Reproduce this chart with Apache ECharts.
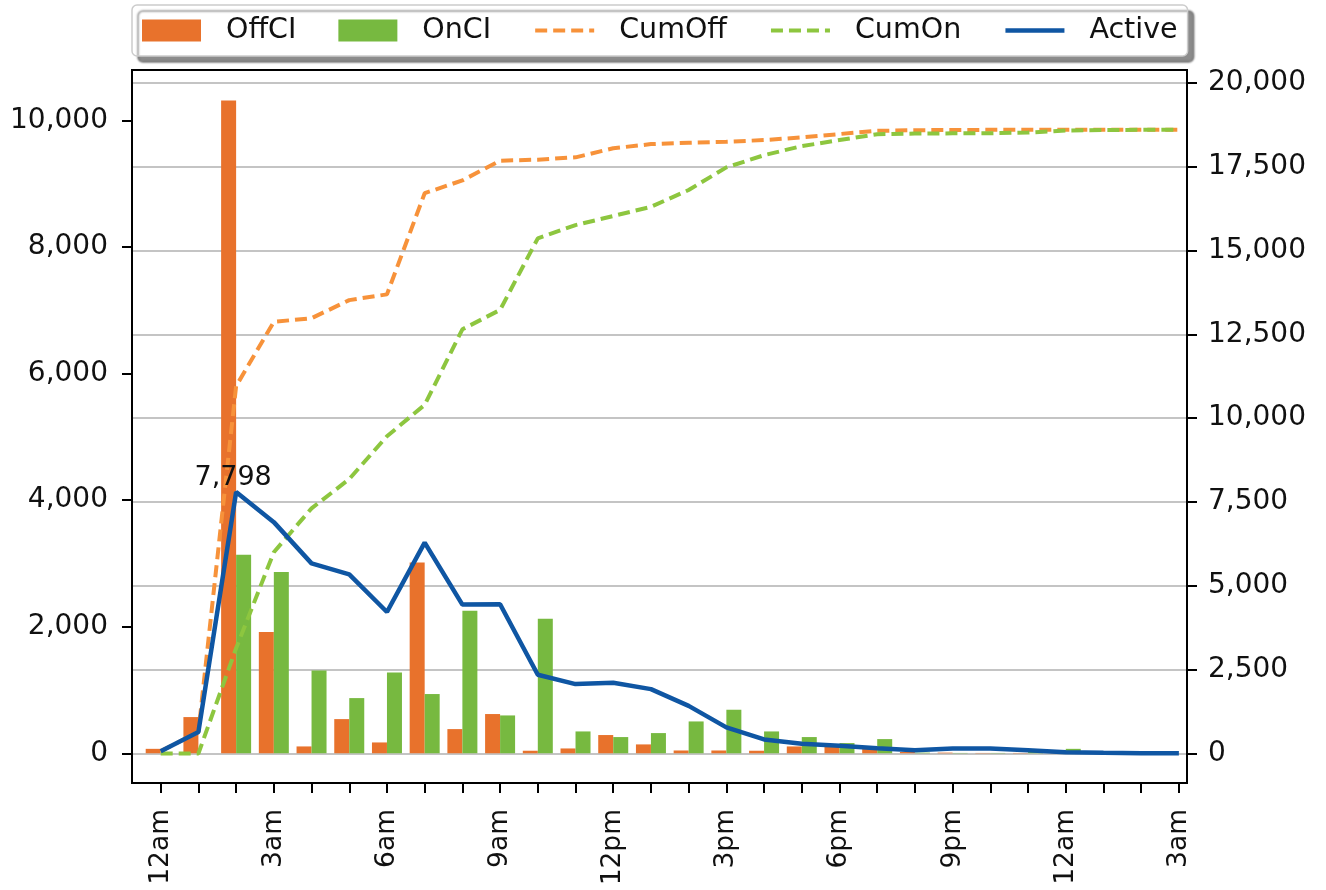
<!DOCTYPE html>
<html>
<head>
<meta charset="utf-8">
<script src="https://cdn.jsdelivr.net/npm/echarts@6/dist/echarts.min.js"></script>
<style>
html,body{margin:0;padding:0;background:#fff;}
#chart{width:1326px;height:890px;}
</style>
</head>
<body>
<div id="chart"></div>
<script>
const categories = ['12am','1am','2am','3am','4am','5am','6am','7am','8am','9am','10am','11am','12pm','1pm','2pm','3pm','4pm','5pm','6pm','7pm','8pm','9pm','10pm','11pm','12am','1am','2am','3am'];
const labelPositions = [0,3,6,9,12,15,18,21,24,27];
const leftTicks = [0,2000,4000,6000,8000,10000];
const rightTicks = [0,2500,5000,7500,10000,12500,15000,17500,20000];

const offCI = [70,572,10316,1916,108,540,171,3017,382,620,40,76,288,140,44,44,40,108,130,95,20,10,5,5,5,0,0,0];
const onCI  = [0,0,3138,2865,1309,872,1278,936,2253,598,2126,345,256,319,503,688,345,256,161,224,10,5,5,20,70,10,5,0];
const cumOff = [70,642,10958,12874,12982,13522,13693,16710,17092,17680,17710,17780,18050,18175,18215,18245,18295,18375,18475,18570,18590,18595,18600,18600,18605,18605,18605,18605];
const cumOn  = [0,0,3138,6003,7312,8184,9462,10398,12651,13230,15365,15760,16030,16305,16805,17480,17845,18115,18295,18470,18490,18495,18500,18520,18580,18595,18600,18605];
const active = [70,642,7798,6900,5670,5340,4220,6290,4440,4450,2350,2070,2110,1920,1420,780,420,290,230,160,100,150,150,100,40,20,10,5];

const FONT = 'DejaVu Sans';
const fmt = v => Math.round(v).toLocaleString('en-US');
const pairs = arr => arr.map((v,i)=>[i,v]);
const peak = active.indexOf(Math.max(...active));
const activeData = active.map((v,i)=> i===peak ? {
  value:[i,v], symbol:'circle', symbolSize:1,
  label:{show:true, position:'top', distance:0, offset:[-3,0], formatter: p=>fmt(p.value[1]), color:'#111', opacity:1, fontSize:27, fontFamily:FONT}
} : [i,v]);

const hideSym = {opacity:0};
const chart = echarts.init(document.getElementById('chart'), null, {renderer:'canvas'});
chart.setOption({
  animation:false,
  backgroundColor:'#fff',
  textStyle:{fontFamily:FONT},
  legend:{
    left:132, top:5, padding:[11,10,11,10], itemGap:42, itemWidth:59, itemHeight:22,
    backgroundColor:'#fff', borderColor:'#cccccc', borderWidth:1.5, borderRadius:5,
    shadowColor:'rgba(0,0,0,0.45)', shadowBlur:2, shadowOffsetX:6, shadowOffsetY:6,
    textStyle:{fontSize:28.5, color:'#111', fontFamily:FONT, padding:[0,0,0,20]},
    data:[{name:'OffCI', icon:'rect'},{name:'OnCI', icon:'rect'},
          {name:'CumOff', itemStyle:hideSym, lineStyle:{width:4}},
          {name:'CumOn', itemStyle:hideSym, lineStyle:{width:4}},
          {name:'Active', itemStyle:hideSym, lineStyle:{width:4.5}}]
  },
  grid:{left:132, right:139, top:70, bottom:107, show:true, borderColor:'#000', borderWidth:2, backgroundColor:'transparent'},
  xAxis:{
    type:'value', min:-0.761, max:27.215,
    axisLine:{show:true, onZero:false, lineStyle:{color:'#000', width:2}},
    axisTick:{show:true, length:10, lineStyle:{color:'#000', width:2}, customValues:categories.map((c,i)=>i)},
    axisLabel:{customValues:labelPositions, rotate:90, margin:26, fontSize:26.5, color:'#111', fontFamily:FONT, formatter:v=>categories[Math.round(v)]},
    splitLine:{show:false}
  },
  yAxis:[
    {type:'value', min:-470, max:10800, minInterval:2000, maxInterval:2000, position:'left',
     axisLine:{show:true, onZero:false, lineStyle:{color:'#000', width:2}},
     axisTick:{show:true, length:10, lineStyle:{color:'#000', width:2}, customValues:leftTicks},
     axisLabel:{customValues:leftTicks, margin:24, fontSize:28, color:'#111', fontFamily:FONT, formatter:fmt},
     splitLine:{show:false}},
    {type:'value', min:-880, max:20385, minInterval:2500, maxInterval:2500, position:'right',
     axisLine:{show:true, onZero:false, lineStyle:{color:'#000', width:2}},
     axisTick:{show:true, length:10, lineStyle:{color:'#000', width:2}, customValues:rightTicks},
     axisLabel:{customValues:rightTicks, margin:21, fontSize:28, color:'#111', fontFamily:FONT, formatter:fmt},
     splitLine:{show:true, lineStyle:{color:'#b0b0b0', width:1.5}}}
  ],
  series:[
    {name:'OffCI', type:'bar', yAxisIndex:0, barWidth:15, barGap:'0%', data:pairs(offCI), itemStyle:{color:'#e8722c'}, z:2},
    {name:'OnCI', type:'bar', yAxisIndex:0, barWidth:15, barGap:'0%', data:pairs(onCI), itemStyle:{color:'#77b940'}, z:2},
    {name:'CumOff', type:'line', yAxisIndex:1, symbol:'none', data:pairs(cumOff), lineStyle:{color:'#f7923a', width:4, type:[12,6]}, itemStyle:{color:'#f7923a'}, z:3},
    {name:'CumOn', type:'line', yAxisIndex:1, symbol:'none', data:pairs(cumOn), lineStyle:{color:'#8dc63f', width:4, type:[12,6]}, itemStyle:{color:'#8dc63f'}, z:3},
    {name:'Active', type:'line', yAxisIndex:1, symbol:'none', data:activeData, lineStyle:{color:'#0f56a3', width:4.5}, itemStyle:{color:'#0f56a3'}, z:4}
  ]
});
</script>
</body>
</html>
